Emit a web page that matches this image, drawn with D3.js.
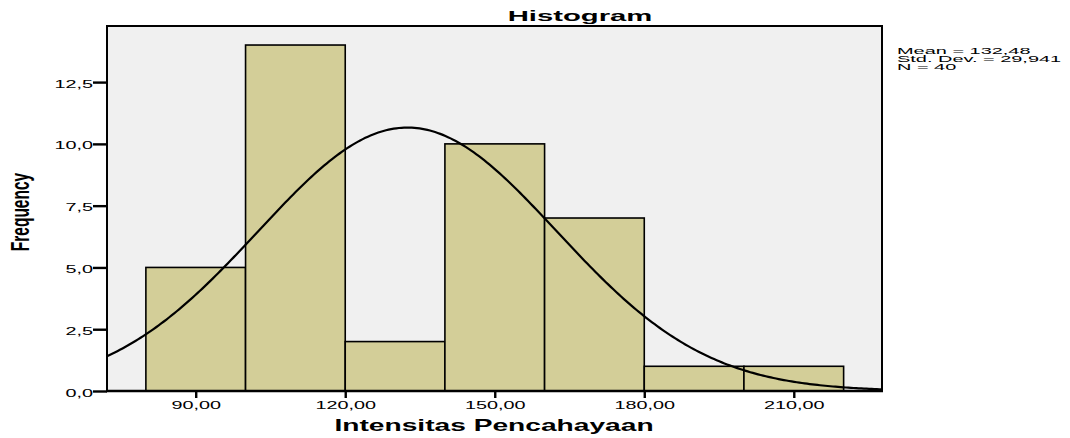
<!DOCTYPE html>
<html>
<head>
<meta charset="utf-8">
<script src="https://cdn.jsdelivr.net/npm/d3@7"></script>
<style>
  body { margin: 0; background: #fff; }
  text { font-family: "Liberation Sans", Arial, sans-serif; fill: #000; }
</style>
</head>
<body>
<svg id="chart" width="1070" height="438"></svg>
<script>
// histogram bins (edges) and their frequencies
const binEdges = [80, 100, 120, 140, 160, 180, 200, 220];
const counts = [5, 14, 2, 10, 7, 1, 1];

// axis ticks as printed (comma decimals)
const xTicks = [90, 120, 150, 180, 210];
const xTickLabels = ["90,00", "120,00", "150,00", "180,00", "210,00"];
const yTicks = [0, 2.5, 5, 7.5, 10, 12.5];
const yTickLabels = ["0,0", "2,5", "5,0", "7,5", "10,0", "12,5"];

// fitted normal curve statistics
const fitMean = 132.48;
const fitSd = 29.941;
const fitN = 40;
const statLines = ["Mean = 132,48", "Std. Dev. = 29,941", "N = 40"];

const plot = { left: 107, right: 882, top: 26, bottom: 391 };
const stretch = 1.8; // the exported picture has horizontally widened text

var svg = d3.select("#chart");

var x = d3.scaleLinear()
    .domain([72.2, 227.7])
    .range([plot.left, plot.right]);
var y = d3.scaleLinear()
    .domain([0, 14.77])
    .range([plot.bottom, plot.top]);

// plot background
svg.append("rect")
    .attr("x", plot.left)
    .attr("y", plot.top)
    .attr("width", plot.right - plot.left)
    .attr("height", plot.bottom - plot.top)
    .attr("fill", "#f0f0f0");

svg.append("clipPath").attr("id", "plotClip")
    .append("rect")
    .attr("x", plot.left)
    .attr("y", plot.top)
    .attr("width", plot.right - plot.left)
    .attr("height", plot.bottom - plot.top);

// bars
svg.append("g")
    .selectAll("rect")
    .data(counts)
    .join("rect")
    .attr("x", (d, i) => x(binEdges[i]))
    .attr("y", d => y(d))
    .attr("width", (d, i) => x(binEdges[i + 1]) - x(binEdges[i]))
    .attr("height", d => y(0) - y(d))
    .attr("fill", "#d3ce98")
    .attr("stroke", "#000")
    .attr("stroke-width", 1.6);

// normal curve scaled to the histogram (N * bin width * density)
var binWidth = binEdges[1] - binEdges[0];
var density = function(v) {
    var z = (v - fitMean) / fitSd;
    return fitN * binWidth * Math.exp(-0.5 * z * z) / (fitSd * Math.sqrt(2 * Math.PI));
};
var xs = d3.range(0, 301).map(i => x.invert(plot.left + i * (plot.right - plot.left) / 300));
svg.append("path")
    .attr("clip-path", "url(#plotClip)")
    .attr("d", d3.line().x(d => x(d)).y(d => y(density(d)))(xs))
    .attr("fill", "none")
    .attr("stroke", "#000")
    .attr("stroke-width", 2.2);

// frame
svg.append("rect")
    .attr("x", plot.left)
    .attr("y", plot.top)
    .attr("width", plot.right - plot.left)
    .attr("height", plot.bottom - plot.top)
    .attr("fill", "none")
    .attr("stroke", "#000")
    .attr("stroke-width", 2);
svg.append("line")
    .attr("x1", plot.left - 1).attr("x2", plot.right + 1)
    .attr("y1", plot.bottom).attr("y2", plot.bottom)
    .attr("stroke", "#000").attr("stroke-width", 2.6);

// y axis
var yAxis = d3.axisLeft(y)
    .tickValues(yTicks)
    .tickFormat((d, i) => yTickLabels[i])
    .tickSize(14)
    .tickSizeOuter(0)
    .tickPadding(0);
var gy = svg.append("g")
    .attr("transform", "translate(" + plot.left + ",0)")
    .call(yAxis);
gy.select(".domain").remove();
gy.selectAll(".tick line").attr("stroke-width", 2.4);
gy.selectAll(".tick text")
    .attr("x", 0)
    .attr("dy", null)
    .attr("font-size", 11)
    .attr("font-family", "Liberation Sans, Arial, sans-serif")
    .attr("transform", "translate(-14,5) scale(" + stretch + ",1)");

// x axis
var xAxis = d3.axisBottom(x)
    .tickValues(xTicks)
    .tickFormat((d, i) => xTickLabels[i])
    .tickSize(7)
    .tickSizeOuter(0);
var gx = svg.append("g")
    .attr("transform", "translate(0," + plot.bottom + ")")
    .call(xAxis);
gx.select(".domain").remove();
gx.selectAll(".tick line").attr("stroke-width", 2.4);
gx.selectAll(".tick text")
    .attr("y", 0)
    .attr("dy", null)
    .attr("font-size", 11)
    .attr("font-family", "Liberation Sans, Arial, sans-serif")
    .attr("transform", "translate(0,17.5) scale(" + stretch + ",1)");

// titles
svg.append("text")
    .text("Histogram")
    .attr("text-anchor", "middle")
    .attr("font-weight", "bold")
    .attr("font-size", 15)
    .attr("transform", "translate(580,21) scale(1.95,1)");

svg.append("text")
    .text("Intensitas Pencahayaan")
    .attr("text-anchor", "middle")
    .attr("font-weight", "bold")
    .attr("font-size", 16)
    .attr("transform", "translate(494,431) scale(1.76,1)");

svg.append("text")
    .text("Frequency")
    .attr("text-anchor", "middle")
    .attr("font-weight", "bold")
    .attr("font-size", 15.5)
    .attr("transform", "translate(28.5,212) rotate(-90) scale(1,1.65)");

// statistics box
svg.append("g")
    .selectAll("text")
    .data(statLines)
    .join("text")
    .text(d => d)
    .attr("font-size", 9.5)
    .attr("transform", (d, i) => "translate(897," + (54 + i * 7.8) + ") scale(2.1,1)");
</script>
</body>
</html>
